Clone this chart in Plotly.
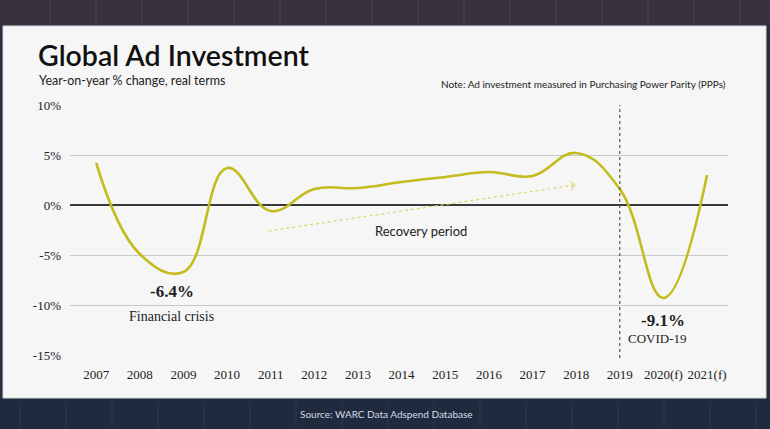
import plotly.graph_objects as go

years = ["2007", "2008", "2009", "2010", "2011", "2012", "2013", "2014",
         "2015", "2016", "2017", "2018", "2019", "2020(f)", "2021(f)"]
growth = [4.2, -4.9, -6.7, 3.7, -0.6, 1.6, 1.7, 2.3, 2.8, 3.3, 2.9, 5.2, 1.6, -9.3, 3.0]
y_ticks = [10, 5, 0, -5, -10, -15]
y_tick_labels = ["10%", "5%", "0%", "-5%", "-10%", "-15%"]

# recovery arrow (index positions / % values)
arrow_x = [3.95, 10.98]
arrow_y = [-2.6, 2.0]

xs = list(range(len(years)))

SERIF = "Liberation Serif, Times New Roman, serif"
SANS = "Lato, Open Sans, sans-serif"

fig = go.Figure()

fig.add_trace(go.Scatter(
    x=xs, y=growth, mode="lines",
    line=dict(color="#c4bc1c", width=2.6, shape="spline", smoothing=1.2),
    hoverinfo="skip", showlegend=False))

fig.add_trace(go.Scatter(
    x=arrow_x, y=arrow_y, mode="lines+markers",
    line=dict(color="#ddd56a", width=1.2, dash="dot"),
    marker=dict(symbol="arrow-wide-open", size=[0, 7], angleref="previous",
                color="#ddd56a", line=dict(color="#ddd56a", width=1)),
    hoverinfo="skip", showlegend=False))

def px_x(p):
    return (p - 70) / 658.0

def px_y(p):
    return (355 - p) / 250.0

shapes = [
    dict(type="rect", xref="paper", yref="paper", x0=px_x(-5), x1=px_x(780),
         y0=px_y(26), y1=px_y(-5), fillcolor="#3a3140", line_width=0, layer="below"),
    dict(type="rect", xref="paper", yref="paper", x0=px_x(-5), x1=px_x(780),
         y0=px_y(435), y1=px_y(398), fillcolor="#1f2a3f", line_width=0, layer="below"),
    dict(type="rect", xref="paper", yref="paper", x0=px_x(3), x1=px_x(766),
         y0=px_y(398), y1=px_y(26), fillcolor="#f6f6f7", line=dict(color="#d8d8dc", width=1),
         layer="below"),
    dict(type="line", xref="x", yref="paper", x0=12, x1=12, y0=px_y(358), y1=1,
         line=dict(color="#555555", width=1.2, dash="dot"), layer="above"),
]
for gx in range(20, 770, 46):
    shapes.append(dict(type="line", xref="paper", yref="paper", x0=px_x(gx), x1=px_x(gx),
                       y0=px_y(402), y1=px_y(429), line=dict(color="#2c3850", width=1), layer="below"))
    shapes.append(dict(type="line", xref="paper", yref="paper", x0=px_x(gx + 30), x1=px_x(gx + 30),
                       y0=px_y(0), y1=px_y(24), line=dict(color="#4a4050", width=1), layer="below"))

annotations = [
    dict(text="Global Ad Investment", x=px_x(36), y=px_y(55), xref="paper", yref="paper",
         xanchor="left", yanchor="middle", showarrow=False,
         font=dict(family=SANS, size=28.5, color="#111111", weight=600)),
    dict(text="Year-on-year % change, real terms", x=px_x(37), y=px_y(81), xref="paper", yref="paper",
         xanchor="left", yanchor="middle", showarrow=False,
         font=dict(family=SANS, size=12.5, color="#222222")),
    dict(text="Note: Ad investment measured in Purchasing Power Parity (PPPs)", x=px_x(728), y=px_y(84),
         xref="paper", yref="paper", xanchor="right", yanchor="middle", showarrow=False,
         font=dict(family=SANS, size=10, color="#222222")),
    dict(text="<b>-6.4%</b>", x=px_x(172), y=px_y(291), xref="paper", yref="paper",
         xanchor="center", yanchor="middle", showarrow=False,
         font=dict(family=SERIF, size=17, color="#222222")),
    dict(text="Financial crisis", x=px_x(171), y=px_y(316), xref="paper", yref="paper",
         xanchor="center", yanchor="middle", showarrow=False,
         font=dict(family=SERIF, size=14, color="#222222")),
    dict(text="Recovery period", x=px_x(421), y=px_y(231), xref="paper", yref="paper",
         xanchor="center", yanchor="middle", showarrow=False,
         font=dict(family=SANS, size=13, color="#222222")),
    dict(text="<b>-9.1%</b>", x=px_x(663), y=px_y(320), xref="paper", yref="paper",
         xanchor="center", yanchor="middle", showarrow=False,
         font=dict(family=SERIF, size=17, color="#222222")),
    dict(text="COVID-19", x=px_x(657), y=px_y(338), xref="paper", yref="paper",
         xanchor="center", yanchor="middle", showarrow=False,
         font=dict(family=SERIF, size=13, color="#222222")),
    dict(text="Source: WARC Data Adspend Database", x=px_x(386), y=px_y(414), xref="paper", yref="paper",
         xanchor="center", yanchor="middle", showarrow=False,
         font=dict(family=SANS, size=10, color="#d6dae2")),
]

fig.update_layout(
    width=770, height=429,
    margin=dict(l=70, r=42, t=105, b=74),
    paper_bgcolor="#2a2d3d",
    plot_bgcolor="rgba(0,0,0,0)",
    shapes=shapes,
    annotations=annotations,
    xaxis=dict(range=[-0.6, 14.48], tickmode="array", tickvals=xs, ticktext=years,
               showgrid=False, zeroline=False, showline=False, ticks="",
               ticklabelstandoff=10, fixedrange=True,
               tickfont=dict(family=SERIF, size=13, color="#222222")),
    yaxis=dict(range=[-15, 10], tickmode="array", tickvals=y_ticks, ticktext=y_tick_labels,
               showgrid=True, gridcolor="#c9c9c9", gridwidth=1,
               zeroline=True, zerolinecolor="#3a3a3a", zerolinewidth=1.5,
               showline=False, ticks="", ticklabelstandoff=8, fixedrange=True,
               tickfont=dict(family=SERIF, size=13, color="#222222")),
)

fig.write_html("out.html", config={"displayModeBar": False},
               post_script="document.body.style.margin='0';document.body.style.overflow='hidden';")
